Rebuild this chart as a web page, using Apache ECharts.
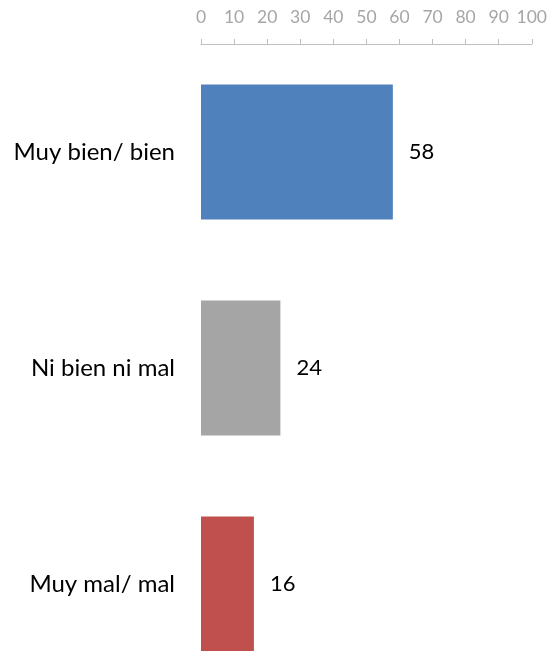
<!DOCTYPE html>
<html><head><meta charset="utf-8">
<script src="https://cdn.jsdelivr.net/npm/echarts@6/dist/echarts.min.js"></script>
<style>html,body{margin:0;padding:0;background:#fff;overflow:hidden}#c{width:550px;height:692px}</style>
</head><body><div id="c"></div>
<script>
const categories = ["Muy bien/ bien", "Ni bien ni mal", "Muy mal/ mal"];
const values = [58, 24, 16];
const barColors = ["#4F81BD", "#A5A5A5", "#C0504D"];
const axisMin = 0, axisMax = 100, axisStep = 10;

const chart = echarts.init(document.getElementById('c'), null, {renderer: 'canvas'});
chart.setOption({
  animation: false,
  backgroundColor: '#fff',
  grid: {left: 201, right: 17, top: 44, bottom: 0, containLabel: false},
  xAxis: {
    type: 'value', position: 'top', min: axisMin, max: axisMax, interval: axisStep,
    axisLine: {show: true, lineStyle: {color: '#BFBFBF', width: 1}},
    axisTick: {show: true, inside: false, length: 5, lineStyle: {color: '#BFBFBF'}},
    axisLabel: {color: '#A6A6A6', fontSize: 17.5, fontFamily: 'Lato', margin: 18},
    splitLine: {show: false}
  },
  yAxis: {
    type: 'category', data: categories, inverse: true,
    axisLine: {show: false}, axisTick: {show: false},
    axisLabel: {color: '#000', fontSize: 24, fontFamily: 'Lato', margin: 26}
  },
  series: [{
    type: 'bar', data: values.map((v, i) => ({value: v, itemStyle: {color: barColors[i]}})),
    barCategoryGap: '37.5%',
    label: {show: true, position: 'right', distance: 16, color: '#000', fontSize: 22, fontFamily: 'Lato'}
  }]
});
</script></body></html>
